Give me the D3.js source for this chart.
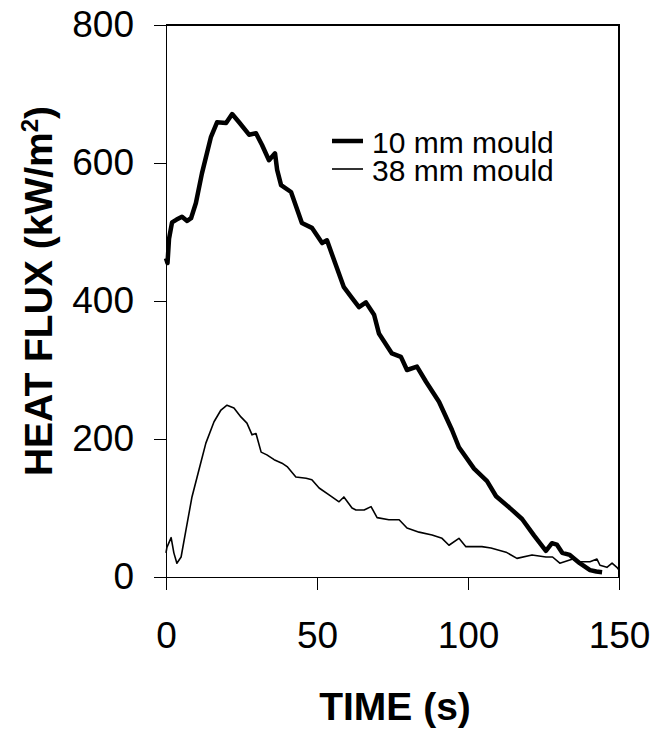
<!DOCTYPE html>
<meta charset="utf-8">
<title>heat flux</title>
<style>

body {
  margin: 0;
  background: #fff;
  font-family: "Liberation Sans", Arial, sans-serif;
}

.axis path,
.axis line {
  stroke: #000;
  stroke-width: 1.3px;
  shape-rendering: crispEdges;
}

.axis text {
  font: 37px "Liberation Sans", Arial, sans-serif;
  fill: #000;
}

.title {
  font: bold 39px "Liberation Sans", Arial, sans-serif;
  fill: #000;
}

.legend text {
  font: 30px "Liberation Sans", Arial, sans-serif;
  fill: #000;
}

</style>
<svg width="652" height="730"></svg>
<script src="https://cdn.jsdelivr.net/npm/d3@7"></script>
<script>

// 10 mm mould (thick line)
var time10 = [0, 0.5, 1, 2, 3.5, 5.3, 7, 8.3, 9.9, 11.9, 14.9, 16.9, 19.9, 21.9, 24.2, 27.5, 29.8, 31.8, 34.1, 36.1, 36.8, 38.1, 41.4, 45, 48.3, 51.7, 53.3, 56, 58.9, 61.5, 63.9, 66.2, 68.9, 70.5, 74.8, 77.8, 79.8, 83.1, 86.1, 90.4, 94.7, 97, 102, 106.3, 109.3, 113.6, 117.9, 121.9, 125.8, 127.8, 129.4, 131.2, 133.7, 137, 140.4, 142.5, 144.4];
var flux10 = [462, 455, 490, 514, 518, 522, 516, 520, 542, 585, 638, 659, 658, 671, 659, 641, 643, 626, 604, 614, 590, 568, 558, 513, 506, 484, 488, 455, 420, 405, 391, 398, 380, 353, 324, 319, 300, 305, 283, 254, 213, 188, 157, 139, 117, 101, 84, 60, 38, 49, 47, 35, 32, 20, 10, 8, 7];

// 38 mm mould (thin line)
var time38 = [0, 0.3, 1.7, 2.6, 3.6, 5.0, 6.6, 8.6, 10.9, 13.2, 15.9, 18.2, 20.2, 22.5, 24.8, 26.8, 28.5, 29.8, 31.5, 33.4, 35.8, 38.4, 40.1, 43.0, 46.4, 48.3, 50.7, 54.0, 57.3, 58.9, 61.6, 62.9, 65.6, 67.9, 69.9, 73.8, 77.2, 79.8, 83.8, 88.1, 91.4, 93.7, 97.0, 99.3, 104.6, 107.6, 112.6, 116.2, 121.2, 125.8, 128, 130.4, 134.7, 137, 140.4, 142.7, 143.7, 146, 147.7, 149.3, 150];
var flux38 = [35, 43, 57, 35, 20, 29, 68, 116, 155, 194, 225, 242, 249, 245, 232, 223, 206, 208, 181, 177, 170, 165, 160, 145, 143, 141, 129, 119, 109, 116, 100, 97, 97, 102, 86, 83, 83, 71, 65, 61, 56, 46, 56, 44, 44, 42, 36, 27, 32, 29, 29, 20, 26, 22, 22, 26, 17, 14, 20, 14, 10];

var xTicks = [0, 50, 100, 150];
var yTicks = [0, 200, 400, 600, 800];
var seriesNames = ["10 mm mould", "38 mm mould"];
var seriesWidths = [4.5, 1.6];

var svg = d3.select("svg"),
    plotLeft = 166, plotRight = 619, plotTop = 25, plotBottom = 577;

var x = d3.scaleLinear().domain([0, 150]).range([plotLeft, plotRight]);
var y = d3.scaleLinear().domain([0, 800]).range([plotBottom, plotTop]);

function zip(t, v) {
  return t.map(function(d, i) { return [d, v[i]]; });
}

var series = [zip(time10, flux10), zip(time38, flux38)];

// frame top + right
svg.append("path")
    .attr("d", "M" + plotLeft + "," + plotTop + "H" + plotRight + "V" + plotBottom)
    .attr("fill", "none")
    .attr("stroke", "#000")
    .attr("stroke-width", 1.3)
    .attr("shape-rendering", "crispEdges");

svg.append("g")
    .attr("class", "axis")
    .attr("transform", "translate(" + plotLeft + ",0)")
    .call(d3.axisLeft(y).tickValues(yTicks).tickSize(12).tickSizeOuter(0).tickPadding(20).tickFormat(d3.format("d")));

svg.append("g")
    .attr("class", "axis")
    .attr("transform", "translate(0," + plotBottom + ")")
    .call(d3.axisBottom(x).tickValues(xTicks).tickSize(13).tickSizeOuter(0).tickPadding(32).tickFormat(d3.format("d")));

var line = d3.line()
    .x(function(d) { return x(d[0]); })
    .y(function(d) { return y(d[1]); });

svg.append("g")
  .selectAll("path")
    .data(series)
  .enter().append("path")
    .attr("d", line)
    .attr("fill", "none")
    .attr("stroke", "#000")
    .attr("stroke-linejoin", "round")
    .attr("stroke-width", function(d, i) { return seriesWidths[i]; });

// legend
var legend = svg.append("g")
    .attr("class", "legend")
  .selectAll("g")
    .data(seriesNames)
  .enter().append("g")
    .attr("transform", function(d, i) { return "translate(332," + (141 + i * 28) + ")"; });

legend.append("line")
    .attr("x2", 31)
    .attr("stroke", "#000")
    .attr("stroke-width", function(d, i) { return seriesWidths[i]; });

legend.append("text")
    .attr("x", 40)
    .attr("y", 12)
    .text(function(d) { return d; });

// axis titles
svg.append("text")
    .attr("class", "title")
    .attr("x", 395)
    .attr("y", 720)
    .attr("text-anchor", "middle")
    .text("TIME (s)");

var yTitle = svg.append("text")
    .attr("class", "title")
    .attr("transform", "translate(52,291) rotate(-90)")
    .attr("text-anchor", "middle");

yTitle.append("tspan").text("HEAT FLUX (kW/m");
yTitle.append("tspan").attr("dy", -14).style("font-size", "24px").text("2");
yTitle.append("tspan").attr("dy", 14).text(")");

</script>
